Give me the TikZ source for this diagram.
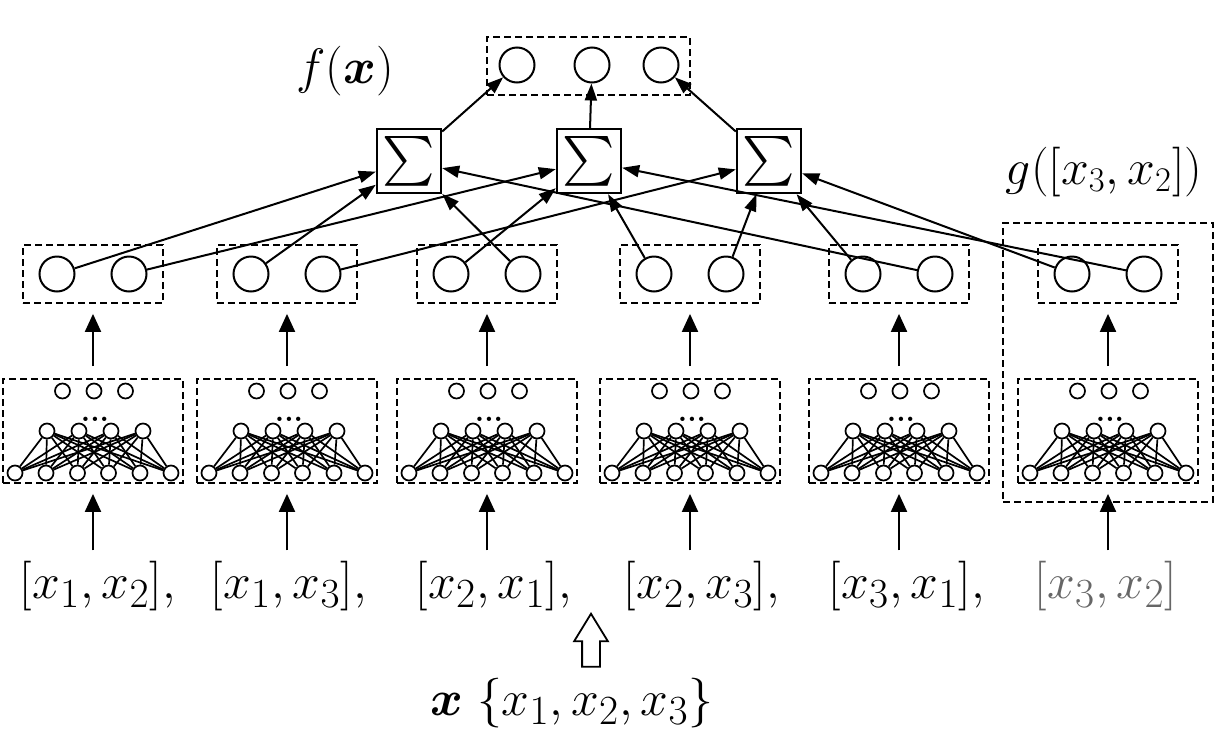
\documentclass[tikz,border=0pt]{standalone}
\usepackage{amsmath}
\usepackage{tikz}
\usetikzlibrary{%
arrows.meta,%
shapes.arrows}
\DeclareMathSizes{27}{27}{22}{17}
\DeclareMathSizes{25}{25}{20}{15}

\begin{document}
\begin{tikzpicture}[x=0.5pt,y=-0.5pt,
    dashbox/.style={draw,dash pattern=on 3.5pt off 2pt,line width=0.9pt,inner sep=0pt},
    unit/.style={draw,circle,line width=1pt,minimum size=17.5pt,inner sep=0pt},
    neuron/.style={draw,circle,fill=white,line width=0.85pt,minimum size=7.5pt,inner sep=0pt},
    sumbox/.style={draw,line width=1.2pt,minimum size=32pt,inner sep=0pt,font=\fontsize{27}{27}\selectfont},
    link/.style={line width=1pt,-{Triangle[length=8.5pt,width=6pt]}},
    up/.style={line width=1pt,-{Triangle[length=9pt,width=8pt]}},
    lbl/.style={inner sep=0pt,font=\fontsize{27}{32}\selectfont}]
\useasboundingbox (0,0) rectangle (1226,734);

\foreach \c/\cx in {1/93,2/287,3/487,4/690,5/899,6/1108}{
    \node[dashbox,minimum width=90pt,minimum height=52pt] (nn\c) at (\cx,431) {};
    \foreach \i/\dx in {1/-31.5,2/0,3/31.5}
        \node[neuron] (t\c-\i) at (\cx+\dx+1,391) {};
    \node[inner sep=0pt,anchor=base,font=\fontsize{15}{15}\selectfont\bfseries] (dots\c) at (\cx+2,421) {...};
    \foreach \i/\dx in {1/-48,2/-16,3/16,4/48}
        \node[neuron] (h\c-\i) at (\cx+\dx+2,431) {};
    \foreach \i/\dx in {1/-78,2/-47,3/-15.5,4/15.5,5/47,6/78}
        \node[neuron] (b\c-\i) at (\cx+\dx,473) {};
    \foreach \i in {1,...,6}
        \foreach \j in {1,...,4}
            \draw[line width=0.85pt] (b\c-\i) -- (h\c-\j);
    \node[dashbox,minimum width=70pt,minimum height=29pt] (pr\c) at (\cx,274) {};
    \node[unit] (pa\c) at (\cx-36,274) {};
    \node[unit] (pb\c) at (\cx+36,274) {};
    \draw[up,shorten <=6pt,shorten >=5pt] (nn\c.north) -- (pr\c.south);
}

\node[dashbox,minimum width=105pt,minimum height=139.5pt] (gbox) at (1108,362.5) {};
\node[font=\fontsize{25.5}{28}\selectfont] (glabel) at (1104,172) {$g([x_3,x_2])$};

% sums and output
\node[sumbox] (sum1) at (409,161) {$\sum$};
\node[sumbox] (sum2) at (589,161) {$\sum$};
\node[sumbox] (sum3) at (769,161) {$\sum$};
\node[dashbox,minimum width=101.5pt,minimum height=29pt] (outbox) at (588.5,66) {};
\node[unit] (out1) at (517,65) {};
\node[unit] (out2) at (592,65) {};
\node[unit] (out3) at (661,65) {};
\node[font=\fontsize{25.5}{28}\selectfont] (flabel) at (345,71) {$f(\boldsymbol{x})$};
\foreach \s in {1,2,3}
    \draw[link] (sum\s) -- (out\s);

\foreach \a/\s in {pa1/sum1,pb1/sum2,pa2/sum1,pb2/sum3,pa3/sum2,pb3/sum1,%
                   pa4/sum2,pb4/sum3,pa5/sum3,pb5/sum1,pa6/sum3,pb6/sum2}
    \draw[link] (\a) -- (\s);

% input pairs
\node[lbl,anchor=base] (in1) at (91,598) {$[x_1,x_2]$};
\node[lbl,anchor=base] (in2) at (282,598) {$[x_1,x_3]$};
\node[lbl,anchor=base] (in3) at (487,598) {$[x_2,x_1]$};
\node[lbl,anchor=base] (in4) at (695,598) {$[x_2,x_3]$};
\node[lbl,anchor=base] (in5) at (900,598) {$[x_3,x_1]$};
\node[lbl,anchor=base,text=black!60] (in6) at (1106,598) {$[x_3,x_2]$};
\foreach \c in {1,...,5}{
    \node[lbl,anchor=base west] (cm\c) at (in\c.base east) {$,$};
    \draw[up,shorten <=5pt,shorten >=5pt] (nn\c.south |- in\c.north) -- (nn\c.south);
}
\draw[up,shorten <=5pt,shorten >=5pt] (nn6.south |- in6.north) -- (nn6.south);

\node[font=\fontsize{25}{30}\selectfont,anchor=base,inner sep=0pt] (xset) at (572,715) {$\boldsymbol{x}\;\{x_1,x_2,x_3\}$};
\node[single arrow,draw,line width=0.9pt,shape border rotate=90,inner sep=4pt,
      single arrow head extend=4pt,single arrow tip angle=63,minimum height=26.5pt] (lift) at (591,647.5) {};
\end{tikzpicture}
\end{document}
